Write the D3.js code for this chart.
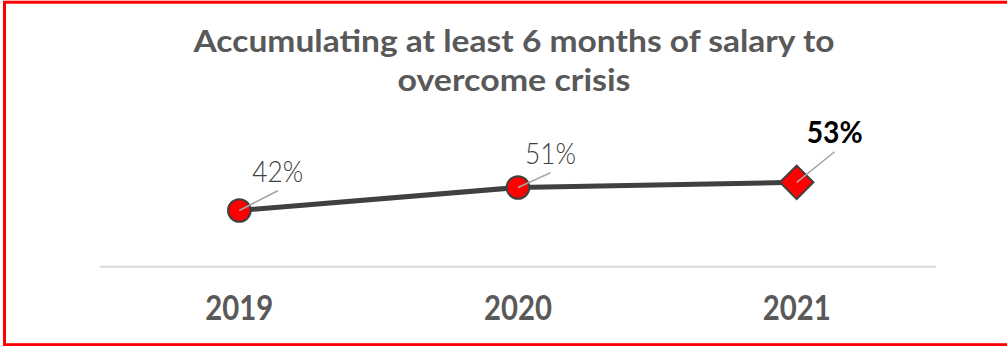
<!DOCTYPE html>
<html>
<head>
<meta charset="utf-8">
<script src="https://cdn.jsdelivr.net/npm/d3@7"></script>
<style>
  html, body { margin: 0; padding: 0; background: #fff; }
  svg { display: block; }
  text { font-family: "Century Gothic", "Lato", "DejaVu Sans", sans-serif; }
</style>
</head>
<body>
<svg id="chart" width="1007" height="346"></svg>
<script>
// Survey share per year
const years = ["2019", "2020", "2021"];
const shares = [42, 51, 53];
const valueLabels = ["42%", "51%", "53%"];
const titleLines = ["Accumulating at least 6 months of salary to", "overcome crisis"];

const W = 1007, H = 346;
const svg = d3.select("#chart");

// outer frame
svg.append("rect")
  .attr("x", 4.5).attr("y", 2.2)
  .attr("width", W + 10).attr("height", 342.5)
  .attr("fill", "none").attr("stroke", "#ff0000").attr("stroke-width", 3);

// title
const titleW = [641, 233];
svg.append("g").selectAll("text").data(titleLines).join("text")
  .attr("x", 514)
  .attr("y", (d, i) => i === 0 ? 52 : 90.5)
  .attr("text-anchor", "middle")
  .attr("font-size", 29.5).attr("font-weight", "bold")
  .attr("fill", "#595959")
  .attr("textLength", (d, i) => titleW[i])
  .attr("lengthAdjust", "spacingAndGlyphs")
  .text(d => d);

// scales
const x = d3.scaleBand().domain(years).range([100, 936]).padding(0);
const cx = d => x(d) + x.bandwidth() / 2;
const y = d3.scaleLinear().domain([20, 70]).range([266.7, 138.9]);

// baseline
svg.append("line")
  .attr("x1", x.range()[0]).attr("x2", x.range()[1])
  .attr("y1", y(20)).attr("y2", y(20))
  .attr("stroke", "#d9d9d9").attr("stroke-width", 2);

// category axis labels
const xAxis = svg.append("g")
  .attr("transform", `translate(0,${y(20)})`)
  .call(d3.axisBottom(x).tickSize(0).tickPadding(0));
xAxis.select(".domain").remove();
xAxis.selectAll("text")
  .attr("dy", null)
  .attr("y", 53.3)
  .attr("font-size", 33.5).attr("font-weight", "bold")
  .attr("fill", "#595959")
  .attr("textLength", 68)
  .attr("lengthAdjust", "spacingAndGlyphs");

const data = years.map((yr, i) => ({ yr, v: shares[i], label: valueLabels[i], last: i === years.length - 1 }));

// line
svg.append("path")
  .datum(data)
  .attr("fill", "none").attr("stroke", "#404040").attr("stroke-width", 5)
  .attr("d", d3.line().x(d => cx(d.yr)).y(d => y(d.v)));

// markers
const circ = data.filter(d => !d.last);
svg.append("g").selectAll("circle").data(circ).join("circle")
  .attr("cx", d => cx(d.yr)).attr("cy", d => y(d.v)).attr("r", 11.3)
  .attr("fill", "#ff0000").attr("stroke", "#404040").attr("stroke-width", 2);

svg.append("g").selectAll("path").data(data.filter(d => d.last)).join("path")
  .attr("d", d3.symbol().type(d3.symbolSquare).size(560))
  .attr("transform", d => `translate(${cx(d.yr)},${y(d.v)}) rotate(45)`)
  .attr("fill", "#ff0000").attr("stroke", "#404040").attr("stroke-width", 2);

// label placement offsets (dx, dy of label baseline centre from the point)
const labelOffset = [[38.5, -28.7], [32.5, -23.7], [38, -39.6]];
const labelW = [51, 51, 56];

// leader lines
svg.append("g").selectAll("line").data(data).join("line")
  .attr("x1", d => cx(d.yr)).attr("y1", d => y(d.v))
  .attr("x2", (d, i) => cx(d.yr) + labelOffset[i][0])
  .attr("y2", (d, i) => y(d.v) + labelOffset[i][1] + 9)
  .attr("stroke", "#a6a6a6").attr("stroke-width", 1.5);

// value labels
svg.append("g").selectAll("text").data(data).join("text")
  .attr("x", (d, i) => cx(d.yr) + labelOffset[i][0])
  .attr("y", (d, i) => y(d.v) + labelOffset[i][1])
  .attr("text-anchor", "middle")
  .attr("font-size", 29.5)
  .attr("font-weight", d => d.last ? "bold" : "300")
  .attr("fill", d => d.last ? "#000000" : "#404040")
  .attr("textLength", (d, i) => labelW[i])
  .attr("lengthAdjust", "spacingAndGlyphs")
  .text(d => d.label);
</script>
</body>
</html>
